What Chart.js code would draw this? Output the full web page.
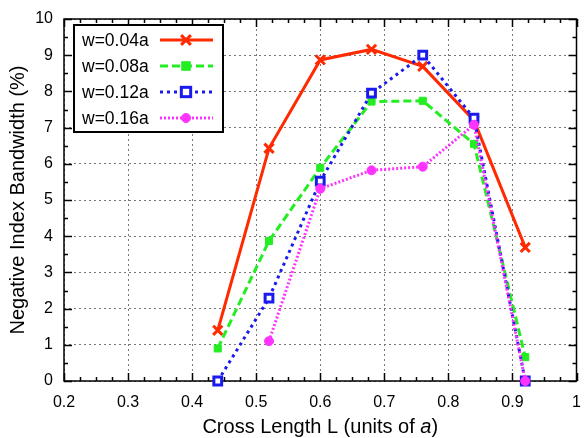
<!DOCTYPE html>
<html>
<head>
<meta charset="utf-8">
<script src="https://cdn.jsdelivr.net/npm/chart.js@4"></script>
<style>
html, body { margin: 0; background: #fff; }
#wrap { width: 586px; height: 438px; }
</style>
</head>
<body>
<div id="wrap"><canvas id="c"></canvas></div>
<script>
const crossLength = [0.44, 0.52, 0.60, 0.68, 0.76, 0.84, 0.92];
const w004 = [1.40, 6.43, 8.87, 9.16, 8.69, 7.20, 3.69];
const w008 = [0.90, 3.87, 5.89, 7.72, 7.74, 6.55, 0.66];
const w012 = [0.00, 2.29, 5.52, 7.95, 9.00, 7.26, 0.00];
const w016 = [null, 1.10, 5.31, 5.82, 5.92, 7.08, 0.00];
const seriesNames = ['w=0.04a', 'w=0.08a', 'w=0.12a', 'w=0.16a'];
const xTicks = [0.2, 0.3, 0.4, 0.5, 0.6, 0.7, 0.8, 0.9, 1.0];
const yTicks = [0, 1, 2, 3, 4, 5, 6, 7, 8, 9, 10];

const FONT = '"Liberation Sans", Arial, sans-serif';

const styles = [
    { color: '#ff2a00', dash: [], width: 3, point: 'crossRot', radius: 6.5, bw: 3, fill: '#ff2a00' },
    { color: '#22ee22', dash: [8, 4], width: 3, point: 'rect', radius: 5, bw: 1, fill: '#22ee22' },
    { color: '#1a1aee', dash: [3, 4], width: 3, point: 'rect', radius: 5.5, bw: 3, fill: '#ffffff' },
    { color: '#ff33ff', dash: [2, 2], width: 3, point: 'circle', radius: 4.5, bw: 1, fill: '#ff33ff' }
];

const series = [w004, w008, w012, w016];

const datasets = series.map((vals, i) => ({
    label: seriesNames[i],
    data: crossLength.map((x, j) => ({ x: x, y: vals[j] })),
    borderColor: styles[i].color,
    borderWidth: styles[i].width,
    borderDash: styles[i].dash,
    pointStyle: styles[i].point,
    pointRadius: styles[i].radius,
    pointBorderWidth: styles[i].bw,
    pointBorderColor: styles[i].color,
    pointBackgroundColor: styles[i].fill,
    tension: 0,
    fill: false,
    clip: false,
    order: 3 - i
}));

function drawMarker(ctx, s, x, y) {
    ctx.save();
    ctx.setLineDash([]);
    ctx.strokeStyle = s.color;
    ctx.fillStyle = s.fill;
    ctx.lineWidth = s.bw;
    const r = s.radius;
    if (s.point === 'crossRot') {
        const d = r * 0.75;
        ctx.beginPath();
        ctx.moveTo(x - d, y - d); ctx.lineTo(x + d, y + d);
        ctx.moveTo(x + d, y - d); ctx.lineTo(x - d, y + d);
        ctx.stroke();
    } else if (s.point === 'rect') {
        const d = r * 0.85;
        ctx.fillRect(x - d, y - d, 2 * d, 2 * d);
        ctx.strokeRect(x - d, y - d, 2 * d, 2 * d);
    } else {
        ctx.beginPath();
        ctx.arc(x, y, r, 0, Math.PI * 2);
        ctx.fill();
        ctx.stroke();
    }
    ctx.restore();
}

const frame = {
    id: 'frame',
    beforeDatasetsDraw(chart) {
        const { ctx, chartArea: a, scales } = chart;
        ctx.save();
        ctx.strokeStyle = '#000';
        ctx.lineWidth = 1.5;
        ctx.setLineDash([]);
        ctx.beginPath();
        // inward ticks on all four sides, minor ones shorter
        for (let v = 0.2; v <= 1.0001; v += 0.025) {
            const major = Math.abs(v * 10 - Math.round(v * 10)) < 1e-6;
            const len = major ? 8 : 4;
            const px = Math.round(scales.x.getPixelForValue(v)) + 0.5;
            ctx.moveTo(px, a.bottom); ctx.lineTo(px, a.bottom - len);
            ctx.moveTo(px, a.top); ctx.lineTo(px, a.top + len);
        }
        for (let v = 0; v <= 10.0001; v += 0.5) {
            const major = Math.abs(v - Math.round(v)) < 1e-6;
            const len = major ? 8 : 4;
            const py = Math.round(scales.y.getPixelForValue(v)) + 0.5;
            ctx.moveTo(a.left, py); ctx.lineTo(a.left + len, py);
            ctx.moveTo(a.right, py); ctx.lineTo(a.right - len, py);
        }
        ctx.stroke();
        ctx.strokeRect(a.left, a.top, a.right - a.left, a.bottom - a.top);
        ctx.restore();
    },
    afterDraw(chart) {
        const ctx = chart.ctx;
        const a = chart.chartArea;
        ctx.save();

        // x axis title, with the italic a
        const t1 = 'Cross Length L (units of ';
        const t2 = 'a';
        const t3 = ')';
        const reg = '20px ' + FONT, ita = 'italic 20px ' + FONT;
        ctx.font = reg; const w1 = ctx.measureText(t1).width, w3 = ctx.measureText(t3).width;
        ctx.font = ita; const w2 = ctx.measureText(t2).width;
        let x = (a.left + a.right) / 2 - (w1 + w2 + w3) / 2;
        const yb = 433;
        ctx.fillStyle = '#000';
        ctx.textBaseline = 'alphabetic';
        ctx.textAlign = 'left';
        ctx.font = reg; ctx.fillText(t1, x, yb); x += w1;
        ctx.font = ita; ctx.fillText(t2, x, yb); x += w2;
        ctx.font = reg; ctx.fillText(t3, x, yb);

        // legend box
        const bx = 74, by = 25, bw = 149, bh = 107;
        ctx.fillStyle = '#fff';
        ctx.fillRect(bx, by, bw, bh);
        ctx.strokeStyle = '#000';
        ctx.lineWidth = 2;
        ctx.strokeRect(bx, by, bw, bh);
        ctx.font = '17.5px ' + FONT;
        ctx.textBaseline = 'middle';
        seriesNames.forEach((name, i) => {
            const y = 40 + i * 26;
            const s = styles[i];
            ctx.fillStyle = '#000';
            ctx.fillText(name, 82, y + 1);
            ctx.save();
            ctx.strokeStyle = s.color;
            ctx.lineWidth = s.width;
            ctx.setLineDash(s.dash);
            ctx.beginPath();
            ctx.moveTo(160, y); ctx.lineTo(213, y);
            ctx.stroke();
            ctx.restore();
            drawMarker(ctx, s, 186, y);
        });
        ctx.restore();
    }
};

new Chart(document.getElementById('c'), {
    type: 'line',
    data: { datasets: datasets },
    options: {
        responsive: true,
        maintainAspectRatio: false,
        animation: false,
        layout: { padding: { top: 19, right: 8, left: 0, bottom: 0 } },
        plugins: { legend: { display: false }, tooltip: { enabled: false } },
        scales: {
            x: {
                type: 'linear',
                min: 0.2,
                max: 1.0,
                afterFit(s) { s.height = 57; s.paddingLeft = 0; s.paddingRight = 0; },
                afterBuildTicks(s) { s.ticks = xTicks.map(v => ({ value: v })); },
                ticks: {
                    color: '#000',
                    font: { family: FONT, size: 16 },
                    padding: 12,
                    callback: v => (Math.abs(v - 1) < 1e-9 ? '1' : v.toFixed(1))
                },
                grid: { color: '#777', drawTicks: false, lineWidth: 1 },
                border: { display: false, dash: [2, 3] }
            },
            y: {
                min: 0,
                max: 10,
                afterFit(s) { s.width = 64; s.paddingTop = 0; s.paddingBottom = 0; },
                afterBuildTicks(s) { s.ticks = yTicks.map(v => ({ value: v })); },
                ticks: {
                    color: '#000',
                    font: { family: FONT, size: 16 },
                    padding: 11
                },
                grid: { color: '#777', drawTicks: false, lineWidth: 1 },
                border: { display: false, dash: [2, 3] },
                title: {
                    display: true,
                    text: 'Negative Index Bandwidth (%)',
                    color: '#000',
                    font: { family: FONT, size: 20 },
                    padding: { top: 6, bottom: 0 }
                }
            }
        }
    },
    plugins: [frame]
});
</script>
</body>
</html>
